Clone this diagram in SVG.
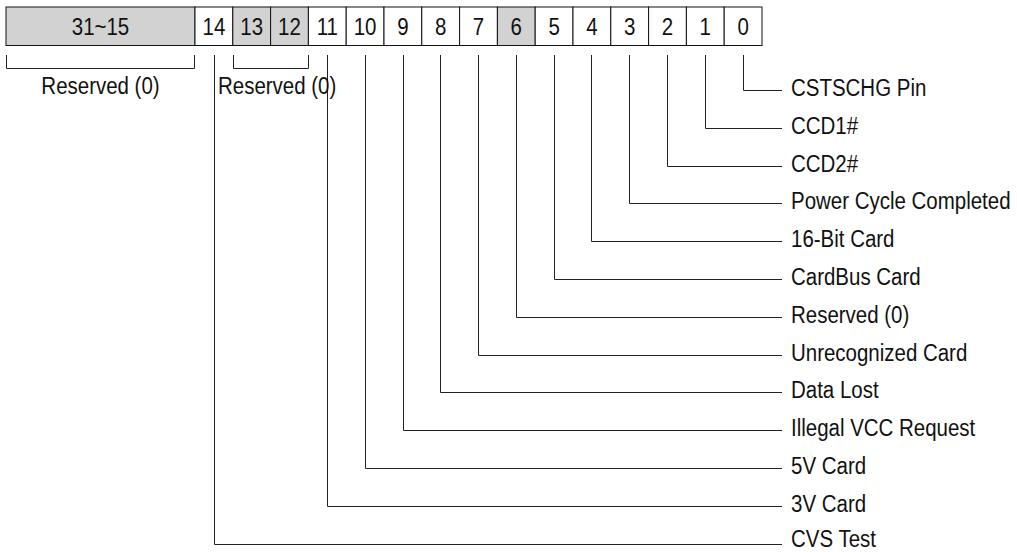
<svg xmlns="http://www.w3.org/2000/svg" width="1017" height="552" viewBox="0 0 1017 552">
<style>
.cell{stroke:#111;stroke-width:1;fill:#fff}
.res{fill:#d2d2d2}
.t{font-family:"Liberation Sans",Arial,sans-serif;font-size:23px;fill:#111}
.c{text-anchor:middle}
.ln{fill:none;stroke:#222;stroke-width:1}
</style>
<rect width="1017" height="552" fill="#fff"/>
<g id="register">
<g id="bits31-15"><rect class="cell res" x="6" y="7" width="189" height="38.5"/><text class="t c" transform="translate(100.5,34.5) scale(0.89,1)">31~15</text></g>
<g id="bit14"><rect class="cell" x="195" y="7" width="37.8" height="38.5"/><text class="t c" transform="translate(213.9,34.5) scale(0.89,1)">14</text></g>
<g id="bit13"><rect class="cell res" x="232.8" y="7" width="37.8" height="38.5"/><text class="t c" transform="translate(251.7,34.5) scale(0.89,1)">13</text></g>
<g id="bit12"><rect class="cell res" x="270.6" y="7" width="37.8" height="38.5"/><text class="t c" transform="translate(289.5,34.5) scale(0.89,1)">12</text></g>
<g id="bit11"><rect class="cell" x="308.4" y="7" width="37.8" height="38.5"/><text class="t c" transform="translate(327.3,34.5) scale(0.89,1)">11</text></g>
<g id="bit10"><rect class="cell" x="346.2" y="7" width="37.8" height="38.5"/><text class="t c" transform="translate(365.1,34.5) scale(0.89,1)">10</text></g>
<g id="bit9"><rect class="cell" x="384" y="7" width="37.8" height="38.5"/><text class="t c" transform="translate(402.9,34.5) scale(0.89,1)">9</text></g>
<g id="bit8"><rect class="cell" x="421.8" y="7" width="37.8" height="38.5"/><text class="t c" transform="translate(440.7,34.5) scale(0.89,1)">8</text></g>
<g id="bit7"><rect class="cell" x="459.6" y="7" width="37.8" height="38.5"/><text class="t c" transform="translate(478.5,34.5) scale(0.89,1)">7</text></g>
<g id="bit6"><rect class="cell res" x="497.4" y="7" width="37.8" height="38.5"/><text class="t c" transform="translate(516.3,34.5) scale(0.89,1)">6</text></g>
<g id="bit5"><rect class="cell" x="535.2" y="7" width="37.8" height="38.5"/><text class="t c" transform="translate(554.1,34.5) scale(0.89,1)">5</text></g>
<g id="bit4"><rect class="cell" x="573" y="7" width="37.8" height="38.5"/><text class="t c" transform="translate(591.9,34.5) scale(0.89,1)">4</text></g>
<g id="bit3"><rect class="cell" x="610.8" y="7" width="37.8" height="38.5"/><text class="t c" transform="translate(629.7,34.5) scale(0.89,1)">3</text></g>
<g id="bit2"><rect class="cell" x="648.6" y="7" width="37.8" height="38.5"/><text class="t c" transform="translate(667.5,34.5) scale(0.89,1)">2</text></g>
<g id="bit1"><rect class="cell" x="686.4" y="7" width="37.8" height="38.5"/><text class="t c" transform="translate(705.3,34.5) scale(0.89,1)">1</text></g>
<g id="bit0"><rect class="cell" x="724.2" y="7" width="37.8" height="38.5"/><text class="t c" transform="translate(743.1,34.5) scale(0.89,1)">0</text></g>
</g>
<g id="connectors">
<path class="ln" d="M6.5,55 V68.5 H194.5 V55"/>
<path class="ln" d="M233.5,55 V68.5 H308.5 V55"/>
<path class="ln" d="M743.5,55 V90.5 H782"/>
<path class="ln" d="M705.5,55 V128.5 H782"/>
<path class="ln" d="M667.5,55 V166.5 H782"/>
<path class="ln" d="M629.5,55 V203.5 H782"/>
<path class="ln" d="M591.5,55 V241.5 H782"/>
<path class="ln" d="M554.5,55 V279.5 H782"/>
<path class="ln" d="M516.5,55 V317.5 H782"/>
<path class="ln" d="M478.5,55 V355.5 H782"/>
<path class="ln" d="M440.5,55 V392.5 H782"/>
<path class="ln" d="M403.5,55 V430.5 H782"/>
<path class="ln" d="M365.5,55 V468.5 H782"/>
<path class="ln" d="M327.5,55 V506.5 H782"/>
<path class="ln" d="M214.5,55 V544.5 H782"/>
</g>
<g id="label-res-31-15"><text class="t c" transform="translate(100.5,94) scale(0.89,1)">Reserved (0)</text></g>
<g id="label-res-13-12"><text class="t" transform="translate(218,93.5) scale(0.89,1)">Reserved (0)</text></g>
<g id="label-0"><text class="t" transform="translate(791,96) scale(0.89,1)">CSTSCHG Pin</text></g>
<g id="label-1"><text class="t" transform="translate(791,134) scale(0.89,1)">CCD1#</text></g>
<g id="label-2"><text class="t" transform="translate(791,172) scale(0.89,1)">CCD2#</text></g>
<g id="label-3"><text class="t" transform="translate(791,209) scale(0.89,1)">Power Cycle Completed</text></g>
<g id="label-4"><text class="t" transform="translate(791,247) scale(0.89,1)">16-Bit Card</text></g>
<g id="label-5"><text class="t" transform="translate(791,285) scale(0.89,1)">CardBus Card</text></g>
<g id="label-6"><text class="t" transform="translate(791,323) scale(0.89,1)">Reserved (0)</text></g>
<g id="label-7"><text class="t" transform="translate(791,361) scale(0.89,1)">Unrecognized Card</text></g>
<g id="label-8"><text class="t" transform="translate(791,398) scale(0.89,1)">Data Lost</text></g>
<g id="label-9"><text class="t" transform="translate(791,436) scale(0.89,1)">Illegal VCC Request</text></g>
<g id="label-10"><text class="t" transform="translate(791,474) scale(0.89,1)">5V Card</text></g>
<g id="label-11"><text class="t" transform="translate(791,512) scale(0.89,1)">3V Card</text></g>
<g id="label-14"><text class="t" transform="translate(791,547) scale(0.89,1)">CVS Test</text></g>
</svg>
